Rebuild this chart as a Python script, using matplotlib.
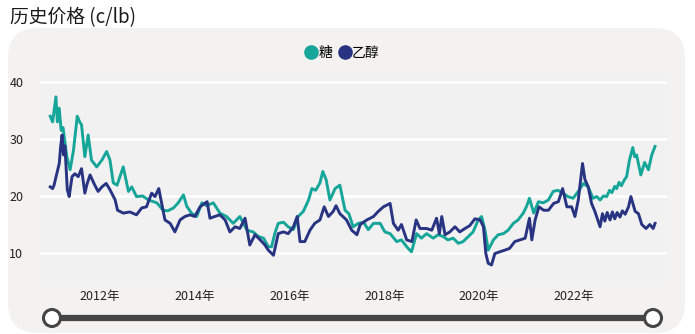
import matplotlib
matplotlib.use("Agg")
import matplotlib.pyplot as plt
from matplotlib.patches import FancyBboxPatch, Circle
from matplotlib.lines import Line2D

plt.rcParams['font.family'] = ['Noto Sans CJK SC', 'DejaVu Sans']

title = "历史价格 (c/lb)"
series_names = ["糖", "乙醇"]
colors = ["#16a599", "#283482"]
xtick_years = [2012, 2014, 2016, 2018, 2020, 2022]
ytick_vals = [10, 20, 30, 40]

sugar_t = [2010.95, 2011.0, 2011.04, 2011.07, 2011.1, 2011.14, 2011.18, 2011.22, 2011.3, 2011.37,
           2011.44, 2011.52, 2011.57, 2011.61, 2011.68, 2011.75, 2011.82, 2011.93, 2012.04, 2012.14,
           2012.21, 2012.28, 2012.36, 2012.49, 2012.6, 2012.67, 2012.77, 2012.9, 2013.02, 2013.2,
           2013.33, 2013.43, 2013.55, 2013.65, 2013.76, 2013.83, 2013.93, 2014.04, 2014.15, 2014.25,
           2014.39, 2014.53, 2014.67, 2014.81, 2014.95, 2015.1, 2015.23, 2015.34, 2015.45, 2015.55,
           2015.62, 2015.69, 2015.76, 2015.87, 2015.97, 2016.08, 2016.18, 2016.29, 2016.4, 2016.47,
           2016.55, 2016.64, 2016.7, 2016.77, 2016.85, 2016.96, 2017.06, 2017.17, 2017.25, 2017.34,
           2017.45, 2017.56, 2017.66, 2017.77, 2017.91, 2018.01, 2018.12, 2018.26, 2018.36, 2018.47,
           2018.57, 2018.68, 2018.78, 2018.89, 2019.03, 2019.13, 2019.24, 2019.34, 2019.45, 2019.56,
           2019.66, 2019.77, 2019.87, 2019.98, 2020.05, 2020.12, 2020.19, 2020.3, 2020.4, 2020.51,
           2020.61, 2020.72, 2020.82, 2020.93, 2021.0, 2021.06, 2021.15, 2021.25, 2021.35, 2021.46,
           2021.56, 2021.66, 2021.77, 2021.87, 2021.98, 2022.09, 2022.2, 2022.3, 2022.4, 2022.48,
           2022.55, 2022.62, 2022.69, 2022.75, 2022.8, 2022.86, 2022.9, 2022.95, 2023.0, 2023.06,
           2023.11, 2023.17, 2023.24, 2023.28, 2023.32, 2023.41, 2023.49, 2023.57, 2023.64, 2023.71]
sugar_v = [34.0, 33.0, 35.5, 37.4, 33.0, 35.4, 31.5, 32.0, 26.9, 24.6,
           28.0, 34.0, 33.0, 32.5, 26.9, 30.7, 26.3, 25.1, 26.3, 27.8,
           26.3, 22.3, 21.9, 25.1, 20.8, 21.6, 19.9, 20.0, 19.3, 18.8,
           17.5, 17.4, 17.9, 18.8, 20.2, 18.2, 17.0, 16.4, 18.8, 18.3,
           18.8, 17.0, 16.4, 15.2, 16.4, 14.0, 13.7, 12.9, 12.6, 11.1,
           11.1, 13.5, 15.2, 15.4, 14.6, 14.1, 16.4, 17.3, 19.3, 21.3,
           21.0, 22.3, 24.3, 22.9, 19.3, 21.3, 21.9, 17.5, 16.9, 14.6,
           15.2, 15.4, 14.1, 15.2, 15.2, 13.7, 13.4, 12.0, 12.3, 11.1,
           10.2, 13.4, 12.6, 13.4, 12.6, 13.2, 12.9, 12.3, 12.6, 11.7,
           12.0, 12.9, 13.7, 15.8, 16.4, 14.1, 10.5, 12.3, 13.2, 13.4,
           14.0, 15.2, 15.8, 17.0, 18.2, 19.6, 17.0, 19.0, 18.8, 19.3,
           20.8, 21.0, 20.5, 19.9, 19.6, 20.8, 22.2, 21.6, 19.6, 19.9,
           19.3, 20.0, 19.9, 21.0, 20.6, 21.7, 21.3, 22.4, 21.8, 22.8,
           23.4, 26.3, 28.5, 26.9, 27.2, 23.7, 25.9, 24.6, 27.2, 28.7]

ethanol_t = [2010.95, 2011.0, 2011.03, 2011.14, 2011.17, 2011.2, 2011.23, 2011.26, 2011.31, 2011.35,
             2011.41, 2011.47, 2011.54, 2011.61, 2011.68, 2011.73, 2011.79, 2011.89, 2011.96, 2012.04,
             2012.13, 2012.21, 2012.32, 2012.37, 2012.49, 2012.63, 2012.77, 2012.88, 2012.98, 2013.09,
             2013.16, 2013.24, 2013.3, 2013.37, 2013.48, 2013.58, 2013.69, 2013.79, 2013.9, 2014.0,
             2014.11, 2014.21, 2014.26, 2014.32, 2014.42, 2014.53, 2014.64, 2014.74, 2014.85, 2014.95,
             2015.06, 2015.16, 2015.27, 2015.38, 2015.48, 2015.55, 2015.66, 2015.76, 2015.87, 2015.97,
             2016.08, 2016.16, 2016.22, 2016.32, 2016.43, 2016.53, 2016.64, 2016.73, 2016.82, 2016.92,
             2016.98, 2017.06, 2017.2, 2017.31, 2017.42, 2017.49, 2017.63, 2017.77, 2017.87, 2017.98,
             2018.12, 2018.19, 2018.29, 2018.36, 2018.47, 2018.58, 2018.67, 2018.75, 2018.89, 2019.0,
             2019.1, 2019.16, 2019.21, 2019.28, 2019.38, 2019.49, 2019.59, 2019.7, 2019.8, 2019.91,
             2020.02, 2020.09, 2020.14, 2020.19, 2020.26, 2020.33, 2020.43, 2020.54, 2020.64, 2020.75,
             2020.86, 2020.97, 2021.06, 2021.11, 2021.18, 2021.26, 2021.36, 2021.46, 2021.57, 2021.67,
             2021.76, 2021.85, 2021.95, 2022.02, 2022.09, 2022.14, 2022.18, 2022.23, 2022.3, 2022.37,
             2022.44, 2022.55, 2022.6, 2022.65, 2022.7, 2022.76, 2022.81, 2022.86, 2022.91, 2022.97,
             2023.02, 2023.08, 2023.15, 2023.2, 2023.29, 2023.36, 2023.43, 2023.52, 2023.6, 2023.67,
             2023.71]
ethanol_v = [21.6, 21.3, 21.9, 25.7, 28.7, 30.7, 27.2, 28.8, 21.1, 19.9,
             23.4, 23.9, 23.4, 24.8, 20.5, 22.2, 23.7, 21.9, 20.8, 21.6,
             22.2, 21.1, 19.3, 17.5, 17.0, 17.2, 16.7, 17.9, 18.1, 20.5,
             19.9, 21.3, 18.8, 15.8, 15.2, 13.7, 15.8, 16.4, 16.7, 16.4,
             18.1, 18.7, 19.0, 16.1, 16.4, 16.7, 15.8, 13.7, 14.6, 14.3,
             16.1, 11.4, 13.2, 12.3, 11.4, 10.5, 9.6, 13.4, 13.7, 13.4,
             14.6, 16.4, 12.0, 12.0, 14.0, 15.2, 15.8, 18.1, 16.4, 17.3,
             18.3, 16.9, 15.8, 14.0, 13.2, 15.0, 15.8, 16.4, 17.3, 18.1,
             18.7, 15.2, 14.0, 15.0, 12.3, 12.0, 15.8, 14.3, 14.3, 14.0,
             16.1, 13.4, 16.4, 13.2, 13.7, 14.6, 13.7, 14.3, 14.8, 16.0,
             15.8, 14.6, 9.9, 8.2, 7.9, 9.9, 10.2, 10.5, 10.8, 12.0,
             12.3, 12.6, 16.1, 12.3, 15.8, 18.1, 17.5, 17.5, 18.7, 19.0,
             21.3, 18.1, 18.1, 16.4, 19.3, 22.9, 25.7, 22.9, 21.6, 18.7,
             17.3, 14.6, 16.9, 15.6, 17.1, 15.8, 17.2, 16.0, 17.1, 16.3,
             17.4, 16.8, 18.1, 19.9, 17.3, 16.9, 15.0, 14.3, 15.0, 14.3,
             15.2]

W, H = 695, 334
fig = plt.figure(figsize=(W / 100, H / 100), dpi=100)
fig.patch.set_facecolor("white")

# background panel in pixel coordinates
bg = fig.add_axes([0, 0, 1, 1])
bg.set_xlim(0, W)
bg.set_ylim(H, 0)
bg.axis("off")
bg.add_patch(FancyBboxPatch((8, 28), 677, 305, boxstyle="round,pad=0,rounding_size=30",
                            facecolor="#f3f2f1", edgecolor="none"))
# slider
bg.plot([52, 653], [318, 318], color="#454545", lw=4.5, solid_capstyle="butt", zorder=2)
for cx in (52, 653):
    bg.add_patch(Circle((cx, 318), 8.5, facecolor="white", edgecolor="#454545", lw=2.2, zorder=3))
bg.text(10, 18, title, fontsize=13.5, color="#1a1a1a", va="center", ha="left", fontweight="medium")

ax = fig.add_axes([40 / W, 1 - 281.5 / H, 627 / W, 210.9 / H])
ax.set_facecolor("#f1f1f1")
ax.plot(sugar_t, sugar_v, color=colors[0], lw=2.1, zorder=3, solid_joinstyle="round")
ax.plot(ethanol_t, ethanol_v, color=colors[1], lw=2.1, zorder=4, solid_joinstyle="round")
ax.set_xlim(2010.734, 2023.962)
ax.set_ylim(5, 42)
ax.set_yticks(ytick_vals)
ax.set_xticks(xtick_years)
ax.set_xticklabels([f"{y}年" for y in xtick_years])
ax.grid(axis="y", color="white", lw=2)
ax.set_axisbelow(True)
for s in ax.spines.values():
    s.set_visible(False)
ax.tick_params(axis="both", length=0, labelsize=9, colors="#222222")
ax.tick_params(axis="y", pad=12)
ax.tick_params(axis="x", pad=6)

handles = [Line2D([], [], marker="o", ls="none", color=c, markersize=9.5) for c in colors]
fig.legend(handles, series_names, loc="center", bbox_to_anchor=(342 / W, 1 - 53 / H),
           ncol=2, frameon=False, fontsize=10, handletextpad=0.0, columnspacing=0.4,
           handlelength=1.0, borderpad=0)

fig.savefig("out.png", dpi=100, facecolor="white")
